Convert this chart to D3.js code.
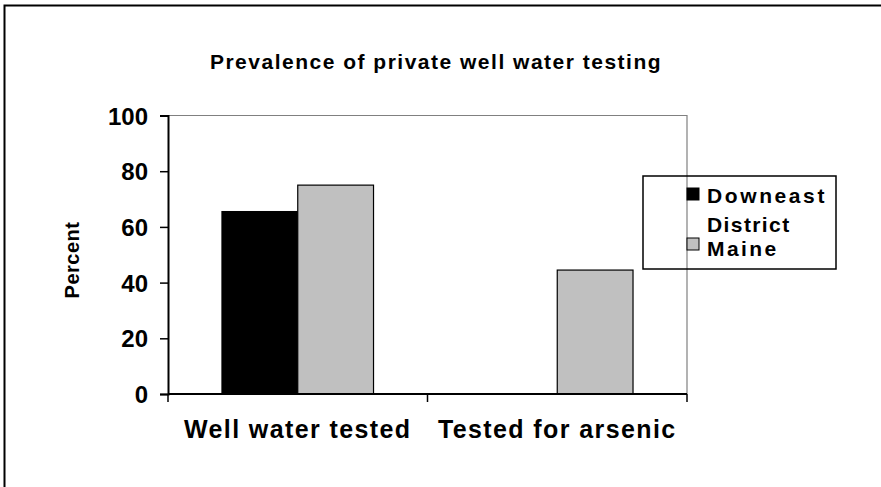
<!DOCTYPE html>
<html><head><meta charset="utf-8">
<script src="https://cdn.jsdelivr.net/npm/d3@7"></script>
<style>body{margin:0;background:#fff}svg{display:block}text{font-family:"Liberation Sans",Arial,sans-serif;font-weight:bold;fill:#000}</style>
</head><body><svg id="c" width="881" height="487"></svg>
<script>
const categories = ["Well water tested", "Tested for arsenic"];
const seriesNames = ["Downeast District", "Maine"];
const downeast = [65.5, null];
const maine = [75, 44.5];
const yTicks = [0, 20, 40, 60, 80, 100];
const colors = ["#000000", "#c0c0c0"];

const svg = d3.select("#c");
const L = 168, R = 687, T = 115.5, B = 394;

svg.append("rect").attr("x", 4.5).attr("y", 5.5).attr("width", 890).attr("height", 500)
  .attr("fill", "none").attr("stroke", "#000").attr("stroke-width", 2);

const y = d3.scaleLinear().domain([0, 100]).range([B, T]);
const x0 = d3.scaleBand().domain(categories).range([L, R]).padding(0);
const bw = x0.bandwidth();
const x1 = d3.scaleBand().domain(seriesNames).range([bw * 0.208, bw * 0.792]).padding(0);

svg.append("path").attr("d", `M${L},${T}H${R}V${B}`).attr("fill", "none").attr("stroke", "#808080").attr("stroke-width", 1.2);

const series = [downeast, maine];
categories.forEach((c, i) => {
  series.forEach((s, j) => {
    if (s[i] == null) return;
    svg.append("rect")
      .attr("x", x0(c) + x1(seriesNames[j]))
      .attr("y", y(s[i]))
      .attr("width", x1.bandwidth())
      .attr("height", B - y(s[i]))
      .attr("fill", colors[j]).attr("stroke", "#000").attr("stroke-width", 1.2);
  });
});

const yAxis = svg.append("g").attr("transform", `translate(${L},0)`)
  .call(d3.axisLeft(y).tickValues(yTicks).tickSize(8).tickPadding(12));
yAxis.select(".domain").attr("stroke-width", 2);
yAxis.selectAll(".tick line").attr("stroke-width", 1.5);
yAxis.selectAll("text").style("font-size", "24px").attr("dy", "0.36em");

const xAxis = svg.append("g").attr("transform", `translate(0,${B})`)
  .call(d3.axisBottom(x0).tickSize(0).tickFormat(""));
xAxis.select(".domain").attr("stroke-width", 2).attr("d", `M${L},0H${R}`);
const bounds = [L, L + bw, R];
xAxis.selectAll(".bt").data(bounds).enter().append("line")
  .attr("x1", d => d).attr("x2", d => d).attr("y1", 0).attr("y2", 8)
  .attr("stroke", "#000").attr("stroke-width", 1.5);
xAxis.selectAll(".cl").data(categories).enter().append("text")
  .attr("x", d => x0(d) + bw / 2).attr("y", 44).attr("text-anchor", "middle")
  .style("font-size", "25px").style("letter-spacing", "1.4px").text(d => d);

svg.append("text").attr("x", 436).attr("y", 69).attr("text-anchor", "middle")
  .style("font-size", "21px").style("letter-spacing", "1.5px")
  .text("Prevalence of private well water testing");

svg.append("text").attr("transform", "translate(79,260) rotate(-90)").attr("text-anchor", "middle")
  .style("font-size", "20px").style("letter-spacing", "0.5px").text("Percent");

const lg = svg.append("g");
lg.append("rect").attr("x", 643).attr("y", 176).attr("width", 193).attr("height", 93)
  .attr("fill", "none").attr("stroke", "#000").attr("stroke-width", 1.5);
lg.append("rect").attr("x", 687).attr("y", 188).attr("width", 12).attr("height", 12)
  .attr("fill", colors[0]).attr("stroke", "#000");
lg.append("rect").attr("x", 687).attr("y", 238).attr("width", 12).attr("height", 12)
  .attr("fill", colors[1]).attr("stroke", "#000");
const nm = seriesNames[0].split(" ");
lg.append("text").attr("x", 707).attr("y", 203).style("font-size", "21px").style("letter-spacing", "2.6px").text(nm[0]);
lg.append("text").attr("x", 707).attr("y", 232).style("font-size", "21px").style("letter-spacing", "1.4px").text(nm[1]);
lg.append("text").attr("x", 707).attr("y", 256).style("font-size", "21px").style("letter-spacing", "2.4px").text(seriesNames[1]);
</script></body></html>
